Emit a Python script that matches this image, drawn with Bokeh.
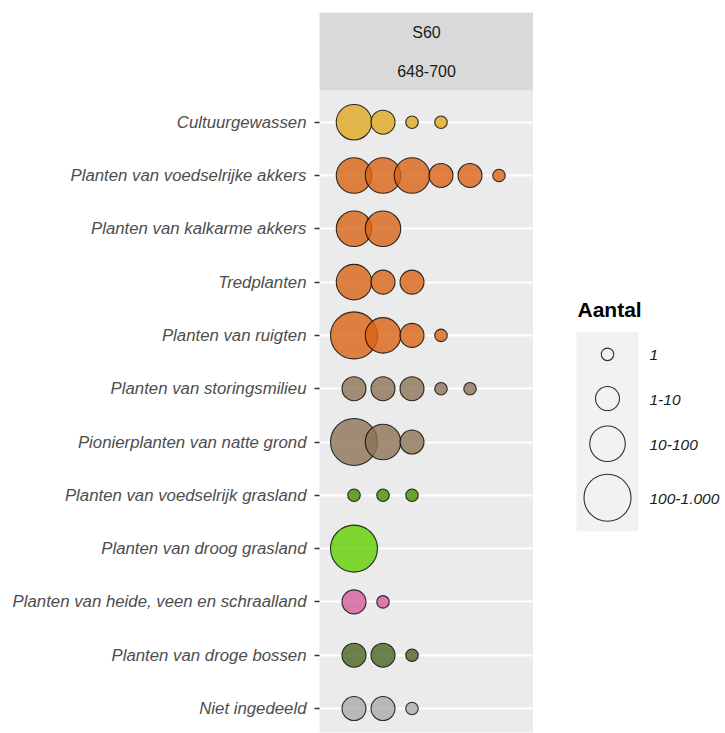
from bokeh.plotting import figure
from bokeh.models import Range1d, FixedTicker, ColumnDataSource
from bokeh.layouts import row
from bokeh.core.properties import value
from bokeh.embed import file_html
from bokeh.resources import INLINE

# Ecological groups, top to bottom
categories = [
    "Cultuurgewassen",
    "Planten van voedselrijke akkers",
    "Planten van kalkarme akkers",
    "Tredplanten",
    "Planten van ruigten",
    "Planten van storingsmilieu",
    "Pionierplanten van natte grond",
    "Planten van voedselrijk grasland",
    "Planten van droog grasland",
    "Planten van heide, veen en schraalland",
    "Planten van droge bossen",
    "Niet ingedeeld",
]

# Abundance class ("Aantal") of each species, one list per group
cultuurgewassen = ["10-100", "1-10", "1", "1"]
voedselrijke_akkers = ["10-100", "10-100", "10-100", "1-10", "1-10", "1"]
kalkarme_akkers = ["10-100", "10-100"]
tredplanten = ["10-100", "1-10", "1-10"]
ruigten = ["100-1.000", "10-100", "1-10", "1"]
storingsmilieu = ["1-10", "1-10", "1-10", "1", "1"]
pionier_natte_grond = ["100-1.000", "10-100", "1-10"]
voedselrijk_grasland = ["1", "1", "1"]
droog_grasland = ["100-1.000"]
heide_veen_schraalland = ["1-10", "1"]
droge_bossen = ["1-10", "1-10", "1"]
niet_ingedeeld = ["1-10", "1-10", "1"]

group_counts = [
    cultuurgewassen, voedselrijke_akkers, kalkarme_akkers, tredplanten,
    ruigten, storingsmilieu, pionier_natte_grond, voedselrijk_grasland,
    droog_grasland, heide_veen_schraalland, droge_bossen, niet_ingedeeld,
]

group_colors = [
    "#E0A822", "#DA6415", "#DA6415", "#DA6415", "#DA6415", "#8D7356",
    "#8D7356", "#439101", "#61D100", "#D55C9C", "#4B6423", "#ABABAB",
]

size_classes = ["1", "1-10", "10-100", "100-1.000"]
size_px = [12.5, 24, 35.5, 47]
size_of = dict(zip(size_classes, size_px))

strip_label = "S60"
strip_sublabel = "648-700"

FONT = "Liberation Sans"
n = len(categories)

# ---- point table ----
xs, ys, sizes, fills = [], [], [], []
for i, (counts, col) in enumerate(zip(group_counts, group_colors)):
    for j, c in enumerate(counts):
        xs.append(j + 1)
        ys.append(n - i)
        sizes.append(size_of[c])
        fills.append(col)
src = ColumnDataSource(dict(x=xs, y=ys, size=sizes, fill=fills))

# ---- main panel ----
x_lo, x_hi = -0.19, 7.19
y_lo, y_hi = 0.55, 14.058
strip_bottom = 12.6

p = figure(
    width=533, height=733,
    x_range=Range1d(x_lo, x_hi), y_range=Range1d(y_lo, y_hi),
    output_backend="svg", toolbar_location=None, title_location=None,
    x_axis_location=None,
    min_border_left=319, min_border_right=0,
    min_border_top=12, min_border_bottom=1,
)
p.background_fill_color = "#EBEBEB"
p.border_fill_color = "white"
p.outline_line_color = None

ticks = list(range(1, n + 1))
p.yaxis.ticker = FixedTicker(ticks=ticks)
p.yaxis.major_label_overrides = {n - i: name for i, name in enumerate(categories)}
p.yaxis.axis_line_color = None
p.yaxis.minor_tick_line_color = None
p.yaxis.major_tick_in = 0
p.yaxis.major_tick_out = 5
p.yaxis.major_tick_line_color = "#333333"
p.yaxis.major_tick_line_width = 1.6
p.yaxis.major_label_standoff = 8
p.yaxis.major_label_text_font = FONT
p.yaxis.major_label_text_font_style = "italic"
p.yaxis.major_label_text_font_size = "16.8px"
p.yaxis.major_label_text_color = "#4D4D4D"

p.xgrid.visible = False
p.ygrid.ticker = FixedTicker(ticks=ticks)
p.ygrid.grid_line_color = "white"
p.ygrid.grid_line_width = 2

# facet strip
p.quad(left=[x_lo], right=[x_hi], bottom=[strip_bottom], top=[y_hi],
       fill_color="#D9D9D9", line_color=None)
mid_x = (x_lo + x_hi) / 2
p.text(x=[mid_x, mid_x], y=[13.677, 12.957], text=[strip_label, strip_sublabel],
       text_font=value(FONT), text_font_size="16px", text_color="#1A1A1A",
       text_align="center", text_baseline="middle")

p.scatter(x="x", y="y", size="size", source=src, marker="circle",
          fill_color="fill", fill_alpha=0.8,
          line_color="black", line_alpha=0.8, line_width=1.1)

# ---- legend (y measured downward in pixels) ----
leg = figure(
    width=192, height=733,
    x_range=Range1d(533, 725), y_range=Range1d(733, 0),
    output_backend="svg", toolbar_location=None, title_location=None,
    x_axis_location=None, y_axis_location=None,
    min_border_left=0, min_border_right=0,
    min_border_top=0, min_border_bottom=0,
)
leg.background_fill_color = "white"
leg.border_fill_color = "white"
leg.outline_line_color = None
leg.xgrid.visible = False
leg.ygrid.visible = False

leg.text(x=[577], y=[302], text=["Aantal"], text_font=value(FONT),
         text_font_style="bold", text_font_size="21px", text_color="black",
         text_align="left", text_baseline="middle")
leg.quad(left=[576], right=[638], bottom=[528], top=[325],
         fill_color="#F2F2F2", line_color=None)
key_y = [348, 393, 439, 494]
leg.scatter(x=[607] * len(size_classes), y=key_y, size=size_px, marker="circle",
            fill_color=None, line_color="black", line_alpha=0.8, line_width=1.1)
leg.text(x=[649] * len(size_classes), y=[v + 1 for v in key_y], text=size_classes,
         text_font=value(FONT), text_font_style="italic", text_font_size="15.5px",
         text_color="#1A1A1A", text_align="left", text_baseline="middle")

layout = row(p, leg, spacing=0)
open("out.html", "w").write(file_html(layout, INLINE))
